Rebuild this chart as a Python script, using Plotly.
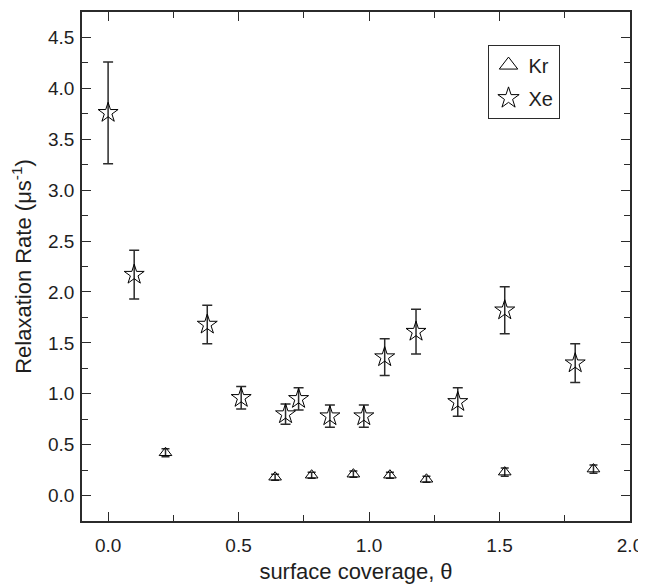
import plotly.graph_objects as go

# Kr (triangles)
kr_theta = [0.22, 0.64, 0.78, 0.94, 1.08, 1.22, 1.52, 1.86]
kr_rate = [0.42, 0.18, 0.20, 0.21, 0.20, 0.16, 0.23, 0.26]
kr_err = [0.04, 0.03, 0.03, 0.03, 0.03, 0.03, 0.04, 0.04]

# Xe (stars)
xe_theta = [0.0, 0.10, 0.38, 0.51, 0.68, 0.73, 0.85, 0.98, 1.06, 1.18, 1.34, 1.52, 1.79]
xe_rate = [3.76, 2.17, 1.68, 0.96, 0.80, 0.95, 0.78, 0.78, 1.36, 1.61, 0.92, 1.82, 1.30]
xe_err = [0.50, 0.24, 0.19, 0.11, 0.10, 0.11, 0.11, 0.11, 0.18, 0.22, 0.14, 0.23, 0.19]

font = "Liberation Sans, Arial, sans-serif"
dark = "#2b2b2b"
txt = "#1e1e1e"

fig = go.Figure()
fig.add_trace(go.Scatter(
    x=kr_theta, y=kr_rate, mode="markers", name="Kr", showlegend=False,
    marker=dict(symbol="triangle-up-open", size=11, color="black", line=dict(width=1)),
    error_y=dict(type="data", array=kr_err, color=dark, thickness=1.5, width=4),
))
fig.add_trace(go.Scatter(
    x=xe_theta, y=xe_rate, mode="markers", name="Xe", showlegend=False,
    marker=dict(symbol="star-open", size=15, color="black", line=dict(width=1)),
    error_y=dict(type="data", array=xe_err, color=dark, thickness=1.5, width=5),
))
# legend entries (bigger symbols, no error bars)
fig.add_trace(go.Scatter(
    x=[None], y=[None], mode="markers", name="Kr", legendgroup="kr",
    marker=dict(symbol="triangle-up-open", size=16, color="black", line=dict(width=1)),
))
fig.add_trace(go.Scatter(
    x=[None], y=[None], mode="markers", name="Xe", legendgroup="xe",
    marker=dict(symbol="star-open", size=16, color="black", line=dict(width=1)),
))

axis_common = dict(
    showline=True, linecolor=dark, linewidth=1.5, mirror="ticks",
    ticks="inside", ticklen=9, tickwidth=1.2, tickcolor=dark,
    showgrid=False, zeroline=False,
    tickfont=dict(family=font, size=19, color=txt),
    tickformat=".1f", dtick=0.5, tick0=0,
    minor=dict(ticks="inside", ticklen=6, tickcolor=dark, dtick=0.25, tickwidth=1.2),
)

fig.update_xaxes(range=[-0.1, 2.0], ticklabelstandoff=6,
                 title=dict(text="surface coverage, θ",
                            font=dict(family=font, size=22, color=txt), standoff=9),
                 **axis_common)
fig.update_yaxes(range=[-0.25, 4.75], ticklabelstandoff=2,
                 title=dict(text="Relaxation Rate (μs<sup>-1</sup>)",
                            font=dict(family=font, size=22, color=txt), standoff=10),
                 **axis_common)

# page body adds an 8px margin, so the figure is shrunk by that amount
fig.update_layout(
    width=638, height=580,
    margin=dict(l=74, r=16, t=2, b=67),
    plot_bgcolor="white", paper_bgcolor="white",
    legend=dict(x=0.74, y=0.936, xanchor="left", yanchor="top",
                bordercolor=dark, borderwidth=1, bgcolor="white",
                font=dict(family=font, size=20, color=txt),
                traceorder="grouped", tracegroupgap=4),
    font=dict(family=font),
)

fig.write_html("out.html")
